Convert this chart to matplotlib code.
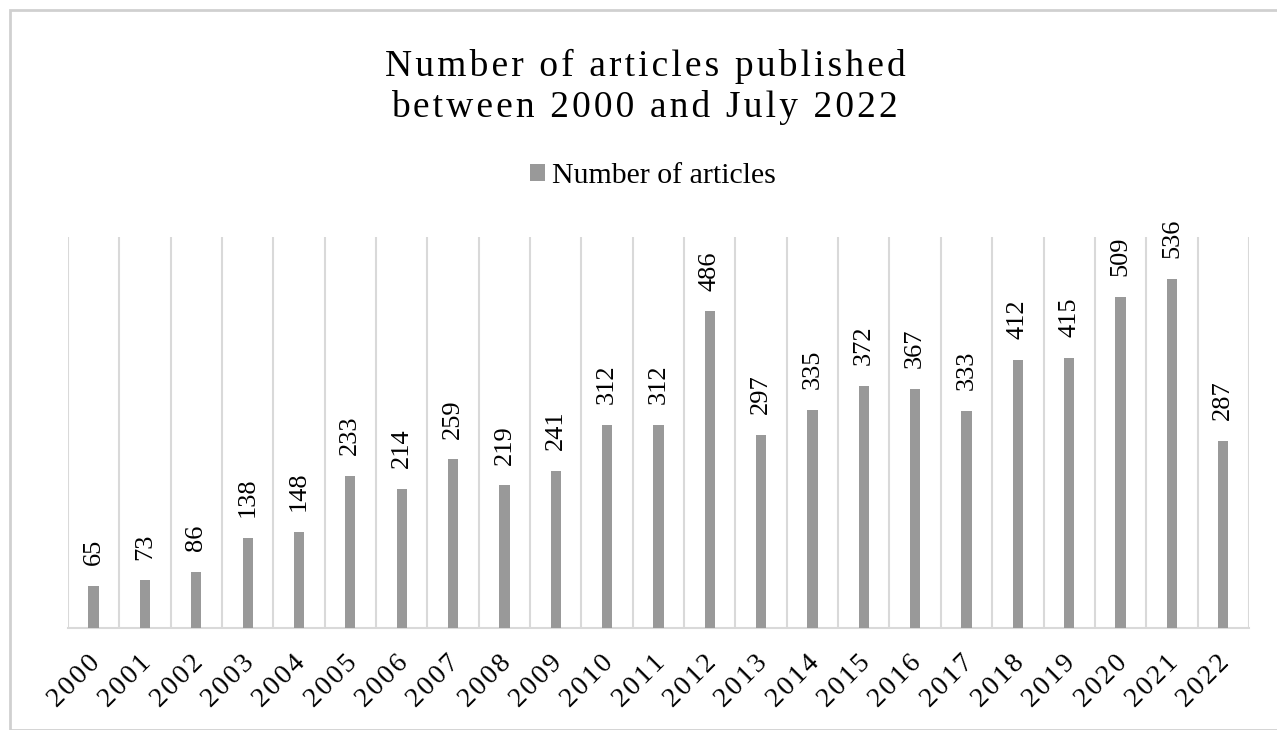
import matplotlib.pyplot as plt
import numpy as np
from matplotlib.patches import Rectangle
from matplotlib.transforms import ScaledTranslation

years = [str(y) for y in range(2000, 2023)]
articles = [65, 73, 86, 138, 148, 233, 214, 259, 219, 241, 312, 312, 486,
            297, 335, 372, 367, 333, 412, 415, 509, 536, 287]
title_lines = ['Number of articles published', 'between 2000 and July 2022']

plt.rcParams['font.family'] = ['Liberation Serif', 'DejaVu Serif']


def spaced(s):
    # letter spacing with hair spaces
    return '\u200a'.join(s)


fig = plt.figure(figsize=(12.77, 7.30), dpi=100)
ax = fig.add_axes([0.0532, 0.1397, 0.9248, 0.5353])

x = np.arange(len(years))
bars = ax.bar(x, articles, width=0.2, color='#999999', label='Number of articles', zorder=3)

for xi, v in zip(x, articles):
    ax.annotate(str(v), (xi, v), xytext=(0, 15), textcoords='offset points',
                rotation=90, ha='center', va='bottom', fontsize=19)

ax.set_xlim(-0.5, len(years) - 0.5)
ax.set_ylim(0, 600)
ax.set_xticks(x)
ax.set_xticklabels([spaced(y) for y in years], rotation=45, ha='right',
                   rotation_mode='anchor', fontsize=20)
ax.tick_params(axis='x', length=0, pad=16)
shift = ScaledTranslation(-6 / 100, 0, fig.dpi_scale_trans)
for lab in ax.get_xticklabels():
    lab.set_transform(lab.get_transform() + shift)
ax.set_xticks(np.arange(-0.5, len(years), 1), minor=True)
ax.tick_params(axis='x', which='minor', length=0)
ax.grid(which='minor', axis='x', color='#d9d9d9', linewidth=1.5, zorder=0)
ax.set_yticks([])
for s in ['left', 'top', 'right']:
    ax.spines[s].set_visible(False)
ax.spines['bottom'].set_color('#d9d9d9')
ax.spines['bottom'].set_linewidth(1.5)

fig.text(0.505, 1 - 76 / 730, spaced(title_lines[0]), ha='center', va='baseline', fontsize=27)
fig.text(0.505, 1 - 117 / 730, spaced(title_lines[1]), ha='center', va='baseline', fontsize=27)
fig.legend(handles=[bars], loc='center', bbox_to_anchor=(0.5115, 0.759), frameon=False,
           fontsize=21.5, handlelength=0.5, handleheight=0.5, handletextpad=0.25)

fig.patches.append(Rectangle((10 / 1277, 0), 1.0, 1 - 10 / 730, transform=fig.transFigure,
                             fill=False, edgecolor='#d0d0d0', linewidth=2))

fig.savefig('out.png', dpi=100)
